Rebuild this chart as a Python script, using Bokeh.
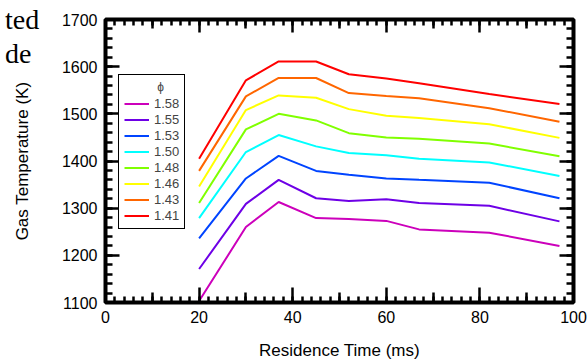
from bokeh.plotting import figure
from bokeh.models import LinearAxis, FixedTicker, Legend, LegendItem, Range1d, Div
from bokeh.layouts import column
from bokeh.embed import file_html
from bokeh.resources import INLINE

# ---- data ----
residence_ms = [20, 30, 37, 45, 52, 60, 67, 82, 97]
phi_labels = ["1.58", "1.55", "1.53", "1.50", "1.48", "1.46", "1.43", "1.41"]
temp_158 = [1103, 1260, 1313, 1279, 1277, 1273, 1255, 1248, 1220]
temp_155 = [1171, 1309, 1360, 1321, 1315, 1319, 1311, 1305, 1272]
temp_153 = [1236, 1363, 1411, 1379, 1371, 1363, 1360, 1354, 1321]
temp_150 = [1279, 1419, 1455, 1431, 1417, 1412, 1405, 1397, 1368]
temp_148 = [1311, 1467, 1500, 1486, 1459, 1450, 1447, 1437, 1410]
temp_146 = [1346, 1508, 1539, 1534, 1510, 1496, 1491, 1478, 1449]
temp_143 = [1379, 1537, 1576, 1576, 1544, 1538, 1533, 1512, 1483]
temp_141 = [1405, 1571, 1611, 1611, 1584, 1575, 1565, 1542, 1521]
series = [temp_158, temp_155, temp_153, temp_150, temp_148, temp_146, temp_143, temp_141]
colors = ["#CC00BB", "#6E00E6", "#0044FF", "#00FFFF", "#80FF00", "#FFFF00", "#FF6600", "#FF0000"]

x_major = list(range(0, 101, 20))
x_medium = list(range(10, 100, 20))
x_minor = list(range(0, 101, 2))
y_major = list(range(1100, 1701, 100))
y_minor = list(range(1100, 1701, 20))

corner_text = ["ted", "de"]

FONT = "Liberation Sans"
W, H = 588, 364

p = figure(width=W, height=H, output_backend="svg", toolbar_location=None,
           x_range=Range1d(0, 100), y_range=Range1d(1100, 1700),
           x_axis_location=None, y_axis_location=None,
           min_border_left=105, min_border_right=15, min_border_top=19, min_border_bottom=62)
p.xgrid.visible = False
p.ygrid.visible = False
p.outline_line_color = "black"
p.outline_line_width = 4
p.background_fill_color = "white"
p.border_fill_color = "white"


def tick_axis(ticks, minor, major_in, minor_in, labels, fixed=None):
    ax = LinearAxis(ticker=FixedTicker(ticks=ticks, minor_ticks=minor),
                    major_tick_in=major_in, major_tick_out=0,
                    minor_tick_in=minor_in, minor_tick_out=0,
                    axis_line_color=None,
                    major_tick_line_color="black", minor_tick_line_color="black",
                    major_tick_line_width=2.5, minor_tick_line_width=2.5)
    if fixed is not None:
        ax.fixed_location = fixed
    if labels:
        ax.major_label_text_font = FONT
        ax.major_label_text_font_size = "16px"
        ax.major_label_text_color = "black"
        ax.major_label_standoff = 8
    else:
        ax.major_label_overrides = {t: "" for t in ticks}
        ax.major_label_standoff = 0
        ax.axis_label = None
    return ax


bottom = tick_axis(x_major, x_minor, 15, 6, True)
bottom.axis_label = "Residence Time (ms)"
bottom.axis_label_text_font = FONT
bottom.axis_label_text_font_size = "17px"
bottom.axis_label_text_font_style = "normal"
bottom.axis_label_text_color = "black"
bottom.axis_label_standoff = 15
p.add_layout(bottom, "below")
p.add_layout(tick_axis(x_medium, [], 10, 0, False, fixed=1100), "below")

top = tick_axis(x_major, x_minor, 13, 6, False)
p.add_layout(top, "above")
p.add_layout(tick_axis(x_medium, [], 9, 0, False, fixed=1700), "above")

left = tick_axis(y_major, y_minor, 14, 7, True)
left.axis_label = "Gas Temperature (K)"
left.axis_label_text_font = FONT
left.axis_label_text_font_size = "17px"
left.axis_label_text_font_style = "normal"
left.axis_label_text_color = "black"
left.axis_label_standoff = 27
p.add_layout(left, "left")

right = tick_axis(y_major, y_minor, 14, 7, False)
p.add_layout(right, "right")

items = []
for lab, ys, c in zip(phi_labels, series, colors):
    r = p.line(residence_ms, ys, line_color=c, line_width=2)
    items.append(LegendItem(label=lab, renderers=[r]))

legend = Legend(items=items, location=(13, 73),
                title="\u00a0" * 10 + "\u03d5",
                title_text_font=FONT, title_text_font_size="12px",
                title_text_font_style="normal", title_standoff=2,
                label_text_font=FONT, label_text_font_size="13px",
                glyph_width=25, glyph_height=15, label_height=15,
                spacing=1, padding=5, label_standoff=5, margin=0,
                border_line_color="black", border_line_width=1.5, border_line_alpha=1,
                background_fill_color="white", background_fill_alpha=1)
p.add_layout(legend)

# page text at the top-left corner of the picture
line_style = "line-height:28px;white-space:nowrap;"
corner_html = ("<div style='font-family:\"Liberation Serif\";font-size:28px;color:black'>"
               f"<div style='{line_style}'>{corner_text[0]}</div>"
               f"<div style='{line_style}margin-top:6px'>{corner_text[1]}</div></div>")
corner = Div(text=corner_html, width=60, height=70,
             styles={"position": "absolute", "left": "0px", "top": "1px", "z-index": "5"})

layout = column(corner, p)
open("out.html", "w").write(file_html(layout, INLINE))
